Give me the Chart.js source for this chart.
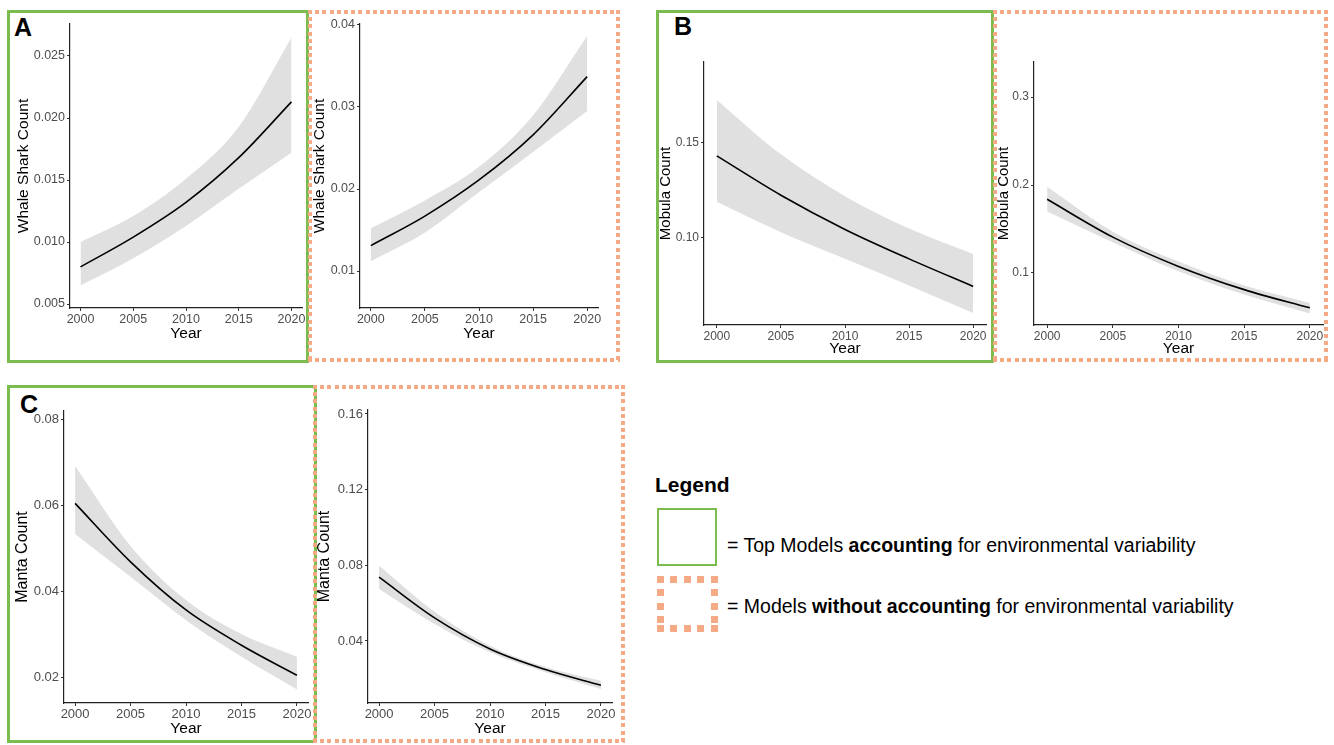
<!DOCTYPE html>
<html>
<head>
<meta charset="utf-8">
<script src="https://cdn.jsdelivr.net/npm/chart.js@4"></script>
<style>
  body { margin: 0; width: 1334px; height: 745px; position: relative; overflow: hidden; background: #fff;
         font-family: 'Liberation Sans', Arial, sans-serif; }
  canvas, .box, .txt { position: absolute; }
  .box { box-sizing: border-box; }
  .solid { border: 3px solid #7abc4e; }
  .dotted {
    --c: #f4aa84; --d: 4px; --p: 7.2px;
    background:
      repeating-linear-gradient(90deg, var(--c) 0 var(--d), transparent var(--d) var(--p)) top left / 100% var(--d) no-repeat,
      repeating-linear-gradient(90deg, var(--c) 0 var(--d), transparent var(--d) var(--p)) bottom left / 100% var(--d) no-repeat,
      repeating-linear-gradient(180deg, var(--c) 0 var(--d), transparent var(--d) var(--p)) top left / var(--d) 100% no-repeat,
      repeating-linear-gradient(180deg, var(--c) 0 var(--d), transparent var(--d) var(--p)) top right / var(--d) 100% no-repeat;
  }
  .letter { font-weight: bold; font-size: 25px; line-height: 24px; color: #000; }
  .legtxt { font-size: 19.5px; line-height: 22px; color: #000; white-space: nowrap; }
</style>
</head>
<body>

<div class="box solid" style="left:7px;top:10px;width:302px;height:353px"></div>
<div class="box solid" style="left:656px;top:10px;width:338px;height:353px"></div>
<div class="box solid" style="left:7px;top:385px;width:310px;height:358px"></div>

<div class="box dotted" style="left:308px;top:10px;width:312px;height:352px"></div>
<div class="box dotted" style="left:993px;top:10px;width:335px;height:352px"></div>
<div class="box dotted" style="left:313px;top:385px;width:312px;height:358px"></div>

<div class="txt letter" style="left:14px;top:15px">A</div>
<div class="txt letter" style="left:674px;top:14px">B</div>
<div class="txt letter" style="left:20px;top:392px">C</div>

<div class="txt" style="left:655px;top:473px;font-size:21px;font-weight:bold;line-height:24px">Legend</div>
<div class="box" style="left:657px;top:508px;width:60px;height:58px;border:2.5px solid #7abc4e"></div>
<div class="box dotted" style="left:657px;top:576px;width:61px;height:56px;--d:7px;--p:13.5px"></div>
<div class="txt legtxt" style="left:727px;top:534px">= Top Models <b>accounting</b> for environmental variability</div>
<div class="txt legtxt" style="left:727px;top:595px">= Models <b>without accounting</b> for environmental variability</div>

<script>
const years = [2000, 2005, 2010, 2015, 2020];
const yearTicks = [2000, 2005, 2010, 2015, 2020];

// A - whale shark, top model (environment)
const whaleEnvMean  = [0.0080, 0.0104, 0.0132, 0.0168, 0.0213];
const whaleEnvLower = [0.0065, 0.0087, 0.0113, 0.0143, 0.0172];
const whaleEnvUpper = [0.0100, 0.0121, 0.0151, 0.0193, 0.0265];
const whaleEnvTicks = [0.005, 0.010, 0.015, 0.020, 0.025];
const whaleEnvTickLabels = ['0.005', '0.010', '0.015', '0.020', '0.025'];

// A - whale shark, without environment
const whaleMean  = [0.0131, 0.0167, 0.0211, 0.0266, 0.0337];
const whaleLower = [0.0112, 0.0147, 0.0196, 0.0245, 0.0295];
const whaleUpper = [0.0152, 0.0186, 0.0227, 0.0290, 0.0387];
const whaleTicks = [0.01, 0.02, 0.03, 0.04];
const whaleTickLabels = ['0.01', '0.02', '0.03', '0.04'];

// B - mobula, top model (environment)
const mobulaEnvMean  = [0.1432, 0.1225, 0.1045, 0.0890, 0.0745];
const mobulaEnvLower = [0.1190, 0.1030, 0.0890, 0.0750, 0.0605];
const mobulaEnvUpper = [0.1726, 0.1440, 0.1220, 0.1050, 0.0916];
const mobulaEnvTicks = [0.10, 0.15];
const mobulaEnvTickLabels = ['0.10', '0.15'];

// B - mobula, without environment
const mobulaMean  = [0.1838, 0.1408, 0.1075, 0.0811, 0.0604];
const mobulaLower = [0.1700, 0.1350, 0.1020, 0.0755, 0.0540];
const mobulaUpper = [0.1980, 0.1470, 0.1130, 0.0857, 0.0660];
const mobulaTicks = [0.1, 0.2, 0.3];
const mobulaTickLabels = ['0.1', '0.2', '0.3'];

// C - manta, top model (environment)
const mantaEnvMean  = [0.0604, 0.0468, 0.0356, 0.0274, 0.0204];
const mantaEnvLower = [0.0533, 0.0433, 0.0332, 0.0247, 0.0171];
const mantaEnvUpper = [0.0691, 0.0505, 0.0379, 0.0300, 0.0247];
const mantaEnvTicks = [0.02, 0.04, 0.06, 0.08];
const mantaEnvTickLabels = ['0.02', '0.04', '0.06', '0.08'];

// C - manta, without environment
const mantaMean  = [0.0737, 0.0522, 0.0358, 0.0249, 0.0166];
const mantaLower = [0.0675, 0.0490, 0.0340, 0.0235, 0.0146];
const mantaUpper = [0.0798, 0.0555, 0.0375, 0.0262, 0.0190];
const mantaTicks = [0.04, 0.08, 0.12, 0.16];
const mantaTickLabels = ['0.04', '0.08', '0.12', '0.16'];

Chart.defaults.font.family = "'Liberation Sans', Arial, sans-serif";

const panels = [
  { mean: whaleEnvMean, lower: whaleEnvLower, upper: whaleEnvUpper, ticks: whaleEnvTicks, labels: whaleEnvTickLabels,
    yTitle: 'Whale Shark Count', yMin: 0.00468, yMax: 0.02758,
    left: 70, top: 24, right: 302, bottom: 308, titleX: 23, yearY: 334, tickSize: 12.5, titleSize: 15.5 },
  { mean: whaleMean, lower: whaleLower, upper: whaleUpper, ticks: whaleTicks, labels: whaleTickLabels,
    yTitle: 'Whale Shark Count', yMin: 0.00549, yMax: 0.04012,
    left: 360, top: 24, right: 598, bottom: 308, titleX: 319, yearY: 334, tickSize: 12.5, titleSize: 15.5 },
  { mean: mobulaEnvMean, lower: mobulaEnvLower, upper: mobulaEnvUpper, ticks: mobulaEnvTicks, labels: mobulaEnvTickLabels,
    yTitle: 'Mobula Count', yMin: 0.0542, yMax: 0.1926,
    left: 704, top: 62, right: 986, bottom: 325, titleX: 666, yearY: 349, tickSize: 12, titleSize: 15 },
  { mean: mobulaMean, lower: mobulaLower, upper: mobulaUpper, ticks: mobulaTicks, labels: mobulaTickLabels,
    yTitle: 'Mobula Count', yMin: 0.0409, yMax: 0.3398,
    left: 1034, top: 62, right: 1323, bottom: 325, titleX: 1004, yearY: 349, tickSize: 12, titleSize: 15 },
  { mean: mantaEnvMean, lower: mantaEnvLower, upper: mantaEnvUpper, ticks: mantaEnvTicks, labels: mantaEnvTickLabels,
    yTitle: 'Manta Count', yMin: 0.01395, yMax: 0.0819,
    left: 64, top: 411, right: 308, bottom: 703, titleX: 23, yearY: 729, tickSize: 13, titleSize: 16 },
  { mean: mantaMean, lower: mantaLower, upper: mantaUpper, ticks: mantaTicks, labels: mantaTickLabels,
    yTitle: 'Manta Count', yMin: 0.0072, yMax: 0.1621,
    left: 368, top: 410, right: 612, bottom: 703, titleX: 325, yearY: 729, tickSize: 13, titleSize: 16 }
];

function pts(vals) {
  return years.map((x, i) => ({ x: x, y: vals[i] }));
}

function drawPanel(p) {
  const cLeft = Math.round(p.titleX - p.titleSize * 0.6);
  const cTop = p.top - 10;
  const cRight = p.right + 8;
  const cBottom = Math.round(p.yearY + 9);
  const canvas = document.createElement('canvas');
  canvas.width = cRight - cLeft;
  canvas.height = cBottom - cTop;
  canvas.style.left = cLeft + 'px';
  canvas.style.top = cTop + 'px';
  document.body.appendChild(canvas);
  const yW = p.left - cLeft;
  const xH = cBottom - p.bottom;

  new Chart(canvas, {
    type: 'line',
    data: {
      datasets: [
        { data: pts(p.mean), borderColor: '#000', borderWidth: 1.6, pointRadius: 0, fill: false,
          cubicInterpolationMode: 'monotone' },
        { data: pts(p.lower), borderColor: 'transparent', pointRadius: 0, fill: false,
          cubicInterpolationMode: 'monotone' },
        { data: pts(p.upper), borderColor: 'transparent', pointRadius: 0, fill: 1, backgroundColor: '#e0e0e0',
          cubicInterpolationMode: 'monotone' }
      ]
    },
    options: {
      responsive: false,
      animation: false,
      events: [],
      layout: { padding: { top: 10, right: 8, left: 0, bottom: 0 } },
      plugins: { legend: { display: false }, tooltip: { enabled: false } },
      scales: {
        x: {
          type: 'linear', min: 1999, max: 2021,
          afterBuildTicks: s => { s.ticks = yearTicks.map(v => ({ value: v })); },
          afterFit: s => { s.height = xH; },
          border: { color: '#222', width: 1.2 },
          grid: { drawOnChartArea: false, tickLength: 3, color: '#333' },
          ticks: { color: '#4d4d4d', font: { size: p.tickSize }, padding: 1, maxRotation: 0, autoSkip: false,
                   callback: v => String(v) },
          title: { display: true, text: 'Year', color: '#000', font: { size: 15.5 }, padding: 0 }
        },
        y: {
          type: 'linear', min: p.yMin, max: p.yMax,
          afterBuildTicks: s => { s.ticks = p.ticks.map(v => ({ value: v })); },
          afterFit: s => { s.width = yW; },
          border: { color: '#222', width: 1.2 },
          grid: { drawOnChartArea: false, tickLength: 3, color: '#333' },
          ticks: { color: '#4d4d4d', font: { size: p.tickSize }, padding: 2, autoSkip: false,
                   callback: (v, i) => p.labels[i] },
          title: { display: true, text: p.yTitle, color: '#000', font: { size: p.titleSize }, padding: 0 }
        }
      }
    }
  });
}

panels.forEach(drawPanel);
</script>
</body>
</html>
